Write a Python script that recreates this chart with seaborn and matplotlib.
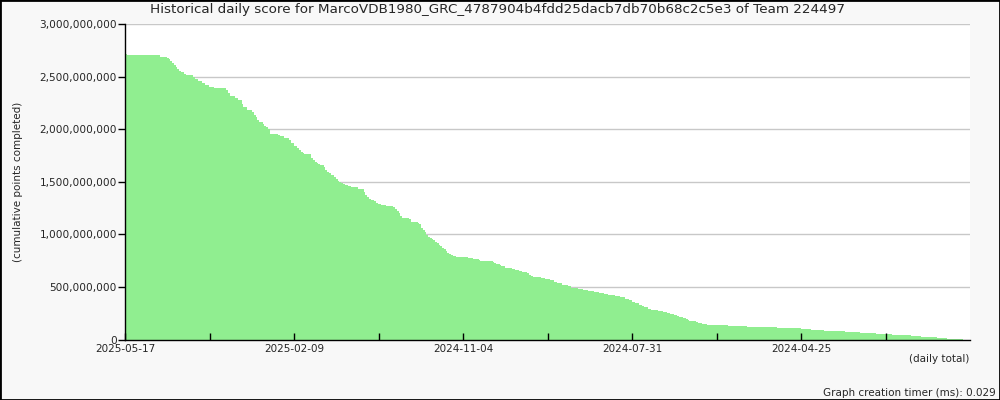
import numpy as np
import pandas as pd
import matplotlib
matplotlib.use("Agg")
import matplotlib.pyplot as plt
from matplotlib.ticker import FuncFormatter, FixedLocator
from matplotlib.patches import Rectangle
import seaborn as sns

# cumulative score read off the chart as step runs: (number of days, value in millions)
# day 0 = 2025-05-17, going back in time
run_days = [
    1, 19, 4, 1, 1, 1, 1, 1, 1, 1, 1, 2, 1, 4, 1, 2, 2, 2, 2, 3,
    7, 1, 1, 3, 2, 2, 1, 2, 3, 1, 1, 1, 1, 2, 1, 1, 1, 1, 5, 1,
    2, 3, 1, 2, 2, 1, 1, 1, 1, 4, 1, 1, 1, 1, 1, 2, 1, 1, 1, 1,
    2, 1, 1, 1, 1, 1, 1, 2, 1, 1, 4, 3, 1, 1, 1, 1, 1, 1, 1, 1,
    2, 3, 4, 1, 1, 1, 1, 1, 1, 3, 1, 4, 1, 1, 1, 1, 1, 1, 1, 1,
    1, 1, 1, 1, 1, 1, 1, 1, 1, 1, 1, 1, 2, 7, 3, 3, 1, 7, 1, 1,
    2, 1, 2, 4, 2, 2, 2, 3, 1, 1, 1, 5, 2, 3, 2, 2, 3, 3, 2, 4,
    3, 3, 3, 3, 3, 2, 4, 3, 3, 2, 2, 2, 2, 2, 1, 2, 2, 4, 3, 2,
    2, 2, 2, 1, 2, 2, 1, 1, 4, 1, 2, 3, 12, 11, 17, 14, 6, 7, 12, 9,
    9, 9, 11, 6, 9, 6, 9, 4,
]
run_values = [
    2715, 2706, 2689, 2680, 2670, 2651, 2632, 2613, 2594, 2575, 2556, 2541, 2528, 2515, 2499, 2480, 2461, 2442, 2423, 2404,
    2395, 2376, 2347, 2319, 2300, 2281, 2242, 2214, 2185, 2161, 2138, 2119, 2090, 2071, 2052, 2030, 2018, 2002, 1954, 1945,
    1935, 1919, 1897, 1872, 1843, 1821, 1802, 1786, 1776, 1767, 1729, 1707, 1685, 1676, 1666, 1657, 1638, 1612, 1596, 1586,
    1564, 1548, 1529, 1510, 1501, 1491, 1482, 1472, 1463, 1457, 1450, 1431, 1403, 1377, 1352, 1336, 1330, 1324, 1314, 1301,
    1289, 1282, 1270, 1257, 1238, 1219, 1200, 1174, 1158, 1153, 1146, 1117, 1108, 1098, 1063, 1041, 1019, 997, 975, 965,
    956, 943, 927, 915, 899, 886, 873, 864, 842, 820, 810, 801, 794, 785, 775, 766, 756, 747, 734, 725,
    715, 706, 699, 680, 670, 658, 649, 639, 630, 616, 607, 594, 585, 575, 563, 547, 537, 521, 509, 493,
    483, 468, 458, 449, 439, 430, 423, 411, 401, 388, 373, 359, 347, 328, 316, 306, 293, 283, 274, 264,
    252, 243, 233, 223, 214, 202, 195, 185, 176, 166, 157, 147, 138, 128, 119, 109, 100, 90, 83, 74,
    65, 55, 43, 33, 24, 14, 6, 0,
]

tick_labels = ["2025-05-17", "2025-02-09", "2024-11-04", "2024-07-31", "2024-04-25"]
tick_step = 97
grid_values = [5e8, 1e9, 1.5e9, 2e9, 2.5e9, 3e9]

title = "Historical daily score for MarcoVDB1980_GRC_4787904b4fdd25dacb7db70b68c2c5e3 of Team 224497"

scores = np.repeat(run_values, run_days) * 1e6
df = pd.DataFrame({"day": np.arange(len(scores)), "score": scores})

sns.set_style("white")
plt.rcParams["font.family"] = ["DejaVu Sans"]

bg = "#f8f8f8"
bar_color = "#90ee90"

fig = plt.figure(figsize=(10, 4), dpi=100, facecolor=bg)
ax = fig.add_axes([0.125, 0.151, 0.845, 0.789])
ax.set_facecolor("white")

# gridlines behind the bars, ticks on top
for g in grid_values:
    ax.axhline(g, color="#c8c8c8", linewidth=1, zorder=0)

sns.barplot(data=df, x="day", y="score", color=bar_color, saturation=1,
            width=1, linewidth=0, antialiased=False, ax=ax, zorder=1)

n = len(scores)
ax.set_xlim(-0.5, n - 0.5)
ax.set_ylim(0, 3e9)

major = [-0.5 + tick_step * i for i in range(len(tick_labels))]
minor = [-0.5 + tick_step * (i + 0.5) for i in range(len(tick_labels))]
ax.xaxis.set_major_locator(FixedLocator(major))
ax.xaxis.set_minor_locator(FixedLocator(minor))
ax.set_xticklabels(tick_labels)
ax.tick_params(axis="x", which="both", direction="in", length=5, width=1,
               color="black", labelsize=7.5, pad=3, bottom=True)

ax.set_yticks(np.arange(0, 3.01e9, 5e8))
ax.yaxis.set_major_formatter(FuncFormatter(lambda v, p: f"{int(v):,}"))
ax.tick_params(axis="y", direction="out", length=5, width=1, color="black",
               labelsize=7.6, pad=0.8, left=True)

ax.set_axisbelow(False)
for s in ["top", "right"]:
    ax.spines[s].set_visible(False)
for s in ["left", "bottom"]:
    ax.spines[s].set_color("black")
    ax.spines[s].set_linewidth(1)
ax.set_xlabel("")
ax.set_ylabel("")

fig.text(0.498, 1 - 10 / 400, title, ha="center", va="center", fontsize=9.7)
fig.text(0.018, 1 - 182 / 400, "(cumulative points completed)", rotation=90,
         ha="center", va="center", fontsize=7.5)
fig.text(0.969, 1 - 359 / 400, "(daily total)", ha="right", va="center", fontsize=7.5)
fig.text(0.996, 1 - 393 / 400, "Graph creation timer (ms): 0.029", ha="right",
         va="center", fontsize=7.5)

fig.patches.append(Rectangle((0, 0), 1, 1, transform=fig.transFigure, fill=False,
                             edgecolor="black", linewidth=2, zorder=10))

fig.savefig("out.png", dpi=100, facecolor=bg)
